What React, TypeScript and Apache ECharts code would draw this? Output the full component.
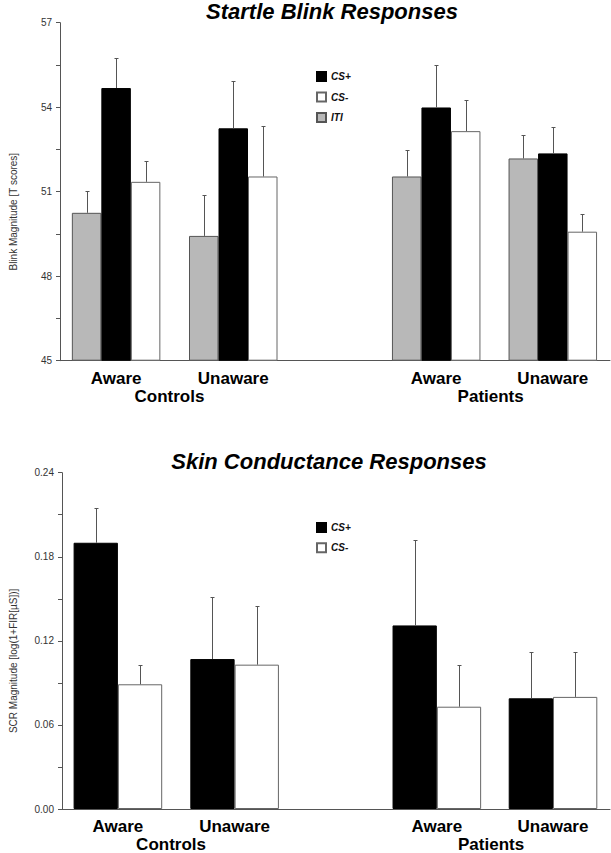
import React, { useEffect, useRef } from 'react';
import * as echarts from 'echarts';

// ---------- data ----------
const CONDITIONS = ['Aware', 'Unaware', 'Aware', 'Unaware'];
const GROUPS = ['Controls', 'Patients'];

const STARTLE_TICKS = [45, 48, 51, 54, 57];
const SCR_TICKS = [0, 0.06, 0.12, 0.18, 0.24];

const STARTLE_ITI = [50.25, 49.43, 51.54, 52.18];
const STARTLE_ITI_SE = [0.77, 1.46, 0.95, 0.84];
const STARTLE_CSP = [54.68, 53.25, 53.99, 52.36];
const STARTLE_CSP_SE = [1.06, 1.68, 1.5, 0.95];
const STARTLE_CSM = [51.35, 51.54, 53.15, 49.58];
const STARTLE_CSM_SE = [0.75, 1.78, 1.12, 0.64];

const SCR_CSP = [0.19, 0.107, 0.131, 0.079];
const SCR_CSP_SE = [0.025, 0.044, 0.061, 0.033];
const SCR_CSM = [0.089, 0.103, 0.073, 0.08];
const SCR_CSM_SE = [0.014, 0.042, 0.03, 0.032];

// ---------- layout (not data) ----------
const SLOT = [10.2, 31.5, 68.4, 89.6]; // condition positions on a 0..100 x scale
const GROUP_LABEL_POS = [19.9, 78.3];
const FONT = '"Liberation Sans", Arial, Helvetica, sans-serif';
const AXIS_COLOR = '#555';

function condAxis(gridIndex: number) {
  return {
    type: 'value', gridIndex, min: 0, max: 100, position: 'bottom',
    axisLine: { show: true, onZero: false, lineStyle: { color: AXIS_COLOR, width: 1 } },
    axisTick: { show: false }, splitLine: { show: false },
    axisLabel: {
      customValues: SLOT,
      formatter: (v: number) => CONDITIONS[SLOT.indexOf(v)] ?? '',
      fontSize: 17, fontWeight: 'bold', color: '#000', fontFamily: FONT, margin: 9,
    },
  };
}
function groupAxis(gridIndex: number) {
  return {
    type: 'value', gridIndex, min: 0, max: 100, position: 'bottom',
    axisLine: { show: false }, axisTick: { show: false }, splitLine: { show: false },
    axisLabel: {
      customValues: GROUP_LABEL_POS,
      formatter: (v: number) => GROUPS[GROUP_LABEL_POS.indexOf(v)] ?? '',
      fontSize: 17, fontWeight: 'bold', color: '#000', fontFamily: FONT, margin: 27,
    },
  };
}
function valAxis(gridIndex: number, ticks: number[], name: string, nameGap: number, digits: number) {
  return {
    type: 'value', gridIndex,
    min: ticks[0], max: ticks[ticks.length - 1], interval: ticks[1] - ticks[0],
    startValue: ticks[0],
    axisLine: { show: true, onZero: false, lineStyle: { color: AXIS_COLOR, width: 1 } },
    axisTick: { show: true, length: 4, lineStyle: { color: AXIS_COLOR } },
    minorTick: { show: true, splitNumber: 2, length: 4, lineStyle: { color: AXIS_COLOR } },
    splitLine: { show: false }, minorSplitLine: { show: false },
    axisLabel: {
      fontSize: 10, color: '#333', fontFamily: FONT, margin: 8,
      formatter: (v: number) => v.toFixed(digits),
    },
    name, nameLocation: 'middle', nameRotate: 90, nameGap,
    nameTextStyle: { fontSize: 10, color: '#333', fontFamily: FONT, padding: [0, 40, 0, 0] },
  };
}

const STYLES: Record<string, any> = {
  'ITI': { color: '#b8b8b8', borderColor: '#555', borderWidth: 1 },
  'CS+': { color: '#000', borderColor: '#000', borderWidth: 1 },
  'CS-': { color: '#fff', borderColor: '#666', borderWidth: 1 },
};

function barSeries(name: string, axis: number, vals: number[], bw: number) {
  return {
    type: 'bar', name, xAxisIndex: axis * 2, yAxisIndex: axis,
    data: SLOT.map((x, i) => [x, vals[i]]),
    barWidth: bw, barGap: '0%', itemStyle: STYLES[name], silent: true,
  };
}
function errSeries(axis: number, vals: number[], errs: number[], idx: number, n: number, bw: number) {
  return {
    type: 'custom', xAxisIndex: axis * 2, yAxisIndex: axis, silent: true, z: 3,
    data: SLOT.map((x, i) => [x, vals[i], vals[i] + errs[i]]),
    encode: { x: 0, y: [1, 2] },
    renderItem: (_p: any, api: any) => {
      const base = api.coord([api.value(0), api.value(1)]);
      const top = api.coord([api.value(0), api.value(2)]);
      const cx = Math.round(base[0] + (idx - (n - 1) / 2) * bw) + 0.5;
      const ty = Math.round(top[1]) + 0.5;
      return {
        type: 'group',
        children: [
          { type: 'line', shape: { x1: cx, y1: base[1], x2: cx, y2: ty }, style: { stroke: '#555', lineWidth: 1 } },
          { type: 'line', shape: { x1: cx - 2, y1: ty, x2: cx + 2, y2: ty }, style: { stroke: '#555', lineWidth: 1 } },
        ],
      };
    },
  };
}

const legendBase = {
  orient: 'vertical', icon: 'rect', itemWidth: 9, itemHeight: 9, selectedMode: false,
  textStyle: { fontSize: 10, fontWeight: 'bold', fontStyle: 'italic', color: '#111', fontFamily: FONT },
};

export default function App() {
  const ref = useRef<HTMLDivElement>(null);
  useEffect(() => {
    if (!ref.current) return;
    const chart = echarts.init(ref.current, undefined, { renderer: 'svg' });
    const TW = 29.5;
    const BW = 44.3;
    chart.setOption({
      animation: false,
      backgroundColor: '#fff',
      grid: [
        { left: 53.5, right: 1, top: 22.7, height: 338 },
        { left: 55.5, right: 1, top: 472.7, height: 337.3 },
      ],
      xAxis: [condAxis(0), groupAxis(0), condAxis(1), groupAxis(1)],
      yAxis: [
        valAxis(0, STARTLE_TICKS, 'Blink Magnitude [T scores]', 42, 0),
        valAxis(1, SCR_TICKS, 'SCR Magnitude [log(1+FIR[µS])]', 44, 2),
      ],
      legend: [
        { ...legendBase, data: ['CS+', 'CS-', 'ITI'], left: 311, top: 66, itemGap: 9.5 },
        { ...legendBase, data: ['CS+', 'CS-'], left: 311, top: 517, itemGap: 9.3 },
      ],
      graphic: [
        {
          type: 'text', x: 332, y: 11,
          style: { text: 'Startle Blink Responses', fontSize: 22, fontWeight: 'bold', fontStyle: 'italic', fontFamily: FONT, fill: '#000', align: 'center', verticalAlign: 'middle' },
        },
        {
          type: 'text', x: 329, y: 461.5,
          style: { text: 'Skin Conductance Responses', fontSize: 22, fontWeight: 'bold', fontStyle: 'italic', fontFamily: FONT, fill: '#000', align: 'center', verticalAlign: 'middle' },
        },
      ],
      series: [
        barSeries('ITI', 0, STARTLE_ITI, TW),
        barSeries('CS+', 0, STARTLE_CSP, TW),
        barSeries('CS-', 0, STARTLE_CSM, TW),
        errSeries(0, STARTLE_ITI, STARTLE_ITI_SE, 0, 3, TW),
        errSeries(0, STARTLE_CSP, STARTLE_CSP_SE, 1, 3, TW),
        errSeries(0, STARTLE_CSM, STARTLE_CSM_SE, 2, 3, TW),
        barSeries('CS+', 1, SCR_CSP, BW),
        barSeries('CS-', 1, SCR_CSM, BW),
        errSeries(1, SCR_CSP, SCR_CSP_SE, 0, 2, BW),
        errSeries(1, SCR_CSM, SCR_CSM_SE, 1, 2, BW),
      ],
    });
    return () => chart.dispose();
  }, []);
  return (
    <div
      ref={ref}
      style={{ position: 'absolute', left: 0, top: 0, width: 611, height: 853, background: '#fff' }}
    />
  );
}
